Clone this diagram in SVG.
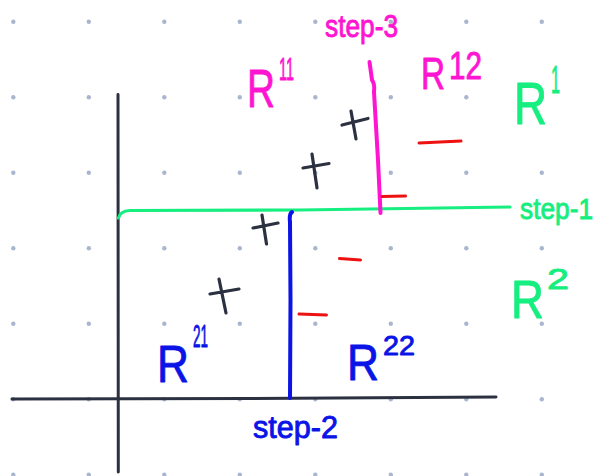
<svg xmlns="http://www.w3.org/2000/svg" width="613" height="476" viewBox="0 0 613 476">
<style>
.dot{fill:#a9b6cf}
.ax{stroke:#2b3140;stroke-width:3;fill:none;stroke-linecap:round}
.pl{stroke:#2b3140;stroke-width:3.2;fill:none;stroke-linecap:round}
.neg{stroke:#ee1111;stroke-width:3;fill:none;stroke-linecap:round}
.g{stroke:#17ee80;stroke-width:3.2;fill:none;stroke-linecap:round}
.m{stroke:#ff14d2;stroke-width:4;fill:none;stroke-linecap:round}
.b{stroke:#0a14e6;stroke-width:4;fill:none;stroke-linecap:round}
text{font-family:"Liberation Sans","DejaVu Sans",sans-serif;stroke-width:0.9;stroke-linejoin:round}
.tg{fill:#17ee80;stroke:#17ee80}
.tm{fill:#ff14d2;stroke:#ff14d2}
.tb{fill:#0a14e6;stroke:#0a14e6}
</style>
<rect width="613" height="476" fill="#ffffff"/>
<g id="grid">
<g id="row0"><circle class="dot" cx="13.3" cy="21.7" r="2.2"/><circle class="dot" cx="88.8" cy="21.7" r="2.2"/><circle class="dot" cx="164.3" cy="21.7" r="2.2"/><circle class="dot" cx="239.8" cy="21.7" r="2.2"/><circle class="dot" cx="315.3" cy="21.7" r="2.2"/><circle class="dot" cx="390.8" cy="21.7" r="2.2"/><circle class="dot" cx="466.3" cy="21.7" r="2.2"/><circle class="dot" cx="541.8" cy="21.7" r="2.2"/></g>
<g id="row1"><circle class="dot" cx="13.3" cy="97.2" r="2.2"/><circle class="dot" cx="88.8" cy="97.2" r="2.2"/><circle class="dot" cx="164.3" cy="97.2" r="2.2"/><circle class="dot" cx="239.8" cy="97.2" r="2.2"/><circle class="dot" cx="315.3" cy="97.2" r="2.2"/><circle class="dot" cx="390.8" cy="97.2" r="2.2"/><circle class="dot" cx="466.3" cy="97.2" r="2.2"/><circle class="dot" cx="541.8" cy="97.2" r="2.2"/></g>
<g id="row2"><circle class="dot" cx="13.3" cy="172.7" r="2.2"/><circle class="dot" cx="88.8" cy="172.7" r="2.2"/><circle class="dot" cx="164.3" cy="172.7" r="2.2"/><circle class="dot" cx="239.8" cy="172.7" r="2.2"/><circle class="dot" cx="315.3" cy="172.7" r="2.2"/><circle class="dot" cx="390.8" cy="172.7" r="2.2"/><circle class="dot" cx="466.3" cy="172.7" r="2.2"/><circle class="dot" cx="541.8" cy="172.7" r="2.2"/></g>
<g id="row3"><circle class="dot" cx="13.3" cy="248.2" r="2.2"/><circle class="dot" cx="88.8" cy="248.2" r="2.2"/><circle class="dot" cx="164.3" cy="248.2" r="2.2"/><circle class="dot" cx="239.8" cy="248.2" r="2.2"/><circle class="dot" cx="315.3" cy="248.2" r="2.2"/><circle class="dot" cx="390.8" cy="248.2" r="2.2"/><circle class="dot" cx="466.3" cy="248.2" r="2.2"/><circle class="dot" cx="541.8" cy="248.2" r="2.2"/></g>
<g id="row4"><circle class="dot" cx="13.3" cy="323.7" r="2.2"/><circle class="dot" cx="88.8" cy="323.7" r="2.2"/><circle class="dot" cx="164.3" cy="323.7" r="2.2"/><circle class="dot" cx="239.8" cy="323.7" r="2.2"/><circle class="dot" cx="315.3" cy="323.7" r="2.2"/><circle class="dot" cx="390.8" cy="323.7" r="2.2"/><circle class="dot" cx="466.3" cy="323.7" r="2.2"/><circle class="dot" cx="541.8" cy="323.7" r="2.2"/></g>
<g id="row5"><circle class="dot" cx="13.3" cy="399.2" r="2.2"/><circle class="dot" cx="88.8" cy="399.2" r="2.2"/><circle class="dot" cx="164.3" cy="399.2" r="2.2"/><circle class="dot" cx="239.8" cy="399.2" r="2.2"/><circle class="dot" cx="315.3" cy="399.2" r="2.2"/><circle class="dot" cx="390.8" cy="399.2" r="2.2"/><circle class="dot" cx="466.3" cy="399.2" r="2.2"/><circle class="dot" cx="541.8" cy="399.2" r="2.2"/></g>
<g id="row6"><circle class="dot" cx="13.3" cy="474.7" r="2.2"/><circle class="dot" cx="88.8" cy="474.7" r="2.2"/><circle class="dot" cx="164.3" cy="474.7" r="2.2"/><circle class="dot" cx="239.8" cy="474.7" r="2.2"/><circle class="dot" cx="315.3" cy="474.7" r="2.2"/><circle class="dot" cx="390.8" cy="474.7" r="2.2"/><circle class="dot" cx="466.3" cy="474.7" r="2.2"/><circle class="dot" cx="541.8" cy="474.7" r="2.2"/></g>
</g>
<g id="axes">
<path class="ax" d="M118 94.5 L118.3 472"/>
<path class="ax" d="M12 399 L250 398.5 L496 397"/>
</g>
<g id="connectors">
<path id="step1-line" class="g" d="M118.5 218 Q120 211 130 210.5 L300 210 L510 207"/>
<path id="step3-line" class="m" d="M369.5 62 L372 80 Q375 84 374 92 L378 160 L380.5 213"/>
<path id="step2-line" class="b" d="M292 212 Q289 214 290 222 L290.5 300 L290 398"/>
</g>
<g id="marks">
<g id="plus1"><path class="pl" d="M342 125 L368 118.5 M351 111 L356 139"/></g>
<g id="plus2"><path class="pl" d="M303 168 L329 163.5 M312 154 L317 188"/></g>
<g id="plus3"><path class="pl" d="M253 228 L278 223 M262 215 L266.5 244"/></g>
<g id="plus4"><path class="pl" d="M210 294 L239 289 M219 279 L226 313"/></g>
<g id="minus1"><path class="neg" d="M419 143 L461 141"/></g>
<g id="minus2"><path class="neg" d="M382 196.5 L405.5 196"/></g>
<g id="minus3"><path class="neg" d="M339.5 258.5 L360.5 260"/></g>
<g id="minus4"><path class="neg" d="M299 314 L326.5 315"/></g>
</g>
<g id="labels">
<g id="label-step3"><text class="tm" x="325" y="37" font-size="32" textLength="73" lengthAdjust="spacingAndGlyphs">step-3</text></g>
<g id="label-R11"><text class="tm"><tspan x="247" y="107" font-size="54" textLength="28" lengthAdjust="spacingAndGlyphs">R</tspan><tspan x="279" y="80" font-size="32" textLength="15" lengthAdjust="spacingAndGlyphs">11</tspan></text></g>
<g id="label-R12"><text class="tm"><tspan x="421" y="89" font-size="44" textLength="24" lengthAdjust="spacingAndGlyphs">R</tspan><tspan x="449" y="79" font-size="38" textLength="33" lengthAdjust="spacingAndGlyphs">12</tspan></text></g>
<g id="label-R1"><text class="tg"><tspan x="514" y="124" font-size="60" textLength="33" lengthAdjust="spacingAndGlyphs">R</tspan><tspan x="551" y="93" font-size="38" textLength="9" lengthAdjust="spacingAndGlyphs">1</tspan></text></g>
<g id="label-step1"><text class="tg" x="520" y="219" font-size="30" textLength="73" lengthAdjust="spacingAndGlyphs">step-1</text></g>
<g id="label-R2"><text class="tg"><tspan x="511" y="318" font-size="54" textLength="33" lengthAdjust="spacingAndGlyphs">R</tspan><tspan x="547" y="289" font-size="30" textLength="22" lengthAdjust="spacingAndGlyphs">2</tspan></text></g>
<g id="label-R21"><text class="tb"><tspan x="157" y="382" font-size="52" textLength="32" lengthAdjust="spacingAndGlyphs">R</tspan><tspan x="193" y="347" font-size="32" textLength="15" lengthAdjust="spacingAndGlyphs">21</tspan></text></g>
<g id="label-R22"><text class="tb"><tspan x="347" y="380" font-size="50" textLength="32" lengthAdjust="spacingAndGlyphs">R</tspan><tspan x="383" y="355" font-size="28" textLength="32" lengthAdjust="spacingAndGlyphs">22</tspan></text></g>
<g id="label-step2"><text class="tb" x="253" y="438" font-size="32" textLength="85" lengthAdjust="spacingAndGlyphs">step-2</text></g>
</g>
</svg>
